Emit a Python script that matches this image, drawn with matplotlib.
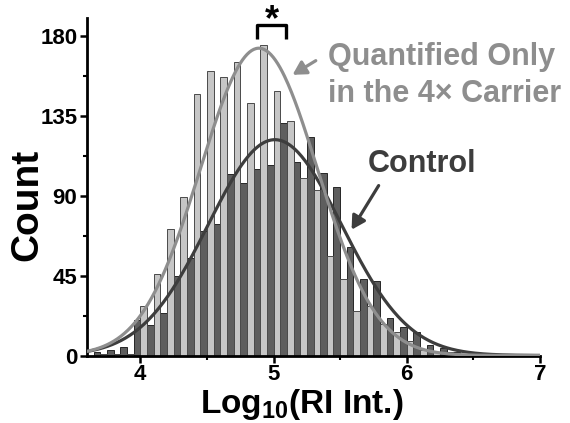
import numpy as np
import matplotlib
matplotlib.use("Agg")
import matplotlib.pyplot as plt
from matplotlib.ticker import MultipleLocator

plt.rcParams["font.family"] = ["Liberation Sans", "DejaVu Sans"]
plt.rcParams["font.weight"] = "bold"
plt.rcParams["mathtext.fontset"] = "custom"
plt.rcParams["mathtext.rm"] = "Liberation Sans:bold"
plt.rcParams["mathtext.bf"] = "Liberation Sans:bold"
plt.rcParams["mathtext.default"] = "bf"

# histogram bins, log10 reporter ion intensity
bin_centers = np.round(np.arange(3.7, 6.85, 0.1), 2)
control_counts = [2, 3, 5, 20, 17, 24, 45, 55, 70, 74, 102, 97, 105, 107, 131, 109,
                  123, 103, 95, 61, 43, 42, 21, 16, 13, 6, 4, 2, 1, 1, 1, 0]
carrier_counts = [1, 1, 1, 28, 46, 71, 89, 147, 160, 157, 165, 142, 175, 149, 132, 100,
                  93, 56, 43, 25, 28, 18, 13, 8, 3, 2, 2, 1, 1, 0, 0, 1]

# gaussian fits: amplitude, mean, sigma
carrier_fit = (173, 4.89, 0.44)
control_fit = (121.5, 5.01, 0.50)

dark_bar = "#5e5e5e"
light_bar = "#c6c6c6"
dark_line = "#3d3d3d"
light_line = "#8e8e8e"


def gauss(x, amp, mu, sig):
    return amp * np.exp(-(x - mu) ** 2 / (2 * sig ** 2))


fig = plt.figure(figsize=(5.7, 4.23), dpi=100)
ax = fig.add_axes([87 / 570, 1 - 355.5 / 423, (540 - 87) / 570, (355.5 - 18) / 423])

ax.bar(bin_centers - 0.025, control_counts, width=0.05, color=dark_bar,
       edgecolor="#262626", linewidth=0.7, zorder=2)
ax.bar(bin_centers + 0.025, carrier_counts, width=0.05, color=light_bar,
       edgecolor="#4a4a4a", linewidth=0.7, zorder=2)

xs = np.linspace(3.6, 7.0, 400)
ax.plot(xs, gauss(xs, *control_fit), color=dark_line, lw=2.3, zorder=3)
ax.plot(xs, gauss(xs, *carrier_fit), color=light_line, lw=2.3, zorder=4)

ax.set_xlim(3.6, 7.0)
ax.set_ylim(0, 190)
ax.set_xticks([4, 5, 6, 7])
ax.set_yticks([0, 45, 90, 135, 180])
ax.xaxis.set_minor_locator(MultipleLocator(0.5))
ax.yaxis.set_minor_locator(MultipleLocator(22.5))
ax.tick_params(which="major", direction="out", length=5, width=1.8, labelsize=16, pad=2)
ax.tick_params(axis="x", which="major", pad=1)
ax.tick_params(which="minor", direction="out", length=3, width=1.5)
for lab in ax.get_xticklabels() + ax.get_yticklabels():
    lab.set_fontweight("bold")
for side in ["top", "right"]:
    ax.spines[side].set_visible(False)
for side in ["left", "bottom"]:
    ax.spines[side].set_linewidth(2)

# significance bracket
ax.plot([4.875, 4.875, 5.09, 5.09], [178, 186, 186, 178], color="black", lw=2.4,
        clip_on=False, solid_capstyle="butt", zorder=5)
ax.text(4.985, 198.5, "*", fontsize=26, fontweight="bold", ha="center", va="top",
        clip_on=False)

# labels with arrows
ax.text(5.41, 163.4, "Quantified Only", color=light_line, fontsize=22, fontweight="bold",
        ha="left", va="baseline")
ax.text(5.41, 142.6, "in the 4\u00d7 Carrier", color=light_line, fontsize=22,
        fontweight="bold", ha="left", va="baseline")
ax.annotate("", xy=(5.125, 157.2), xytext=(5.335, 166.8),
            arrowprops=dict(arrowstyle="-|>,head_length=0.8,head_width=0.45",
                            color=light_line, lw=2.3))
ax.text(5.71, 103.2, "Control", color=dark_line, fontsize=22, fontweight="bold",
        ha="left", va="baseline")
ax.annotate("", xy=(5.575, 69.5), xytext=(5.8, 97),
            arrowprops=dict(arrowstyle="-|>,head_length=0.8,head_width=0.45",
                            color=dark_line, lw=2.3))

fig.text(27 / 570, 1 - 205 / 423, "Count", rotation=90, fontsize=28, fontweight="bold",
         ha="center", va="center")
fig.text(302 / 570, 1 - 413 / 423, r"Log$_{10}$(RI Int.)", fontsize=24,
         fontweight="bold", ha="center", va="baseline")

fig.savefig("out.png", dpi=100)
